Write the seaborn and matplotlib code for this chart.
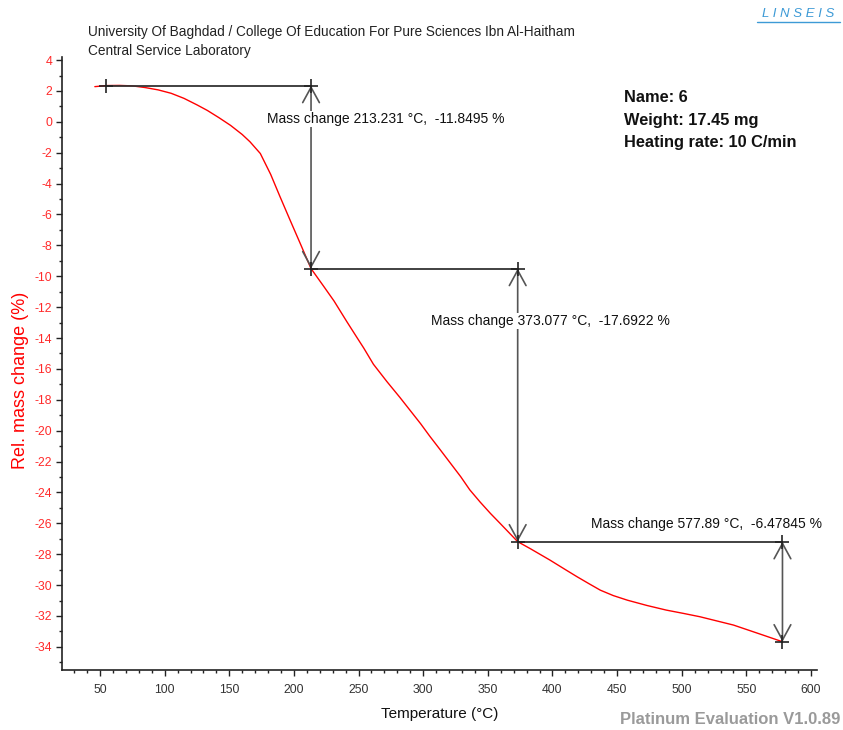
import matplotlib
matplotlib.use("Agg")
import matplotlib.pyplot as plt
from matplotlib.ticker import MultipleLocator
from matplotlib.lines import Line2D
import numpy as np
import pandas as pd
import seaborn as sns

# ---------------- data ----------------
temperature = [46, 55, 65, 75, 85, 95, 105, 115, 125, 133, 142, 151, 160, 166, 174,
               182, 189, 197, 205, 213.2, 223, 231, 241, 249, 254, 261.5, 272, 282,
               290, 298, 305, 313, 321, 329, 336, 344, 352, 360, 367, 373.1, 383,
               398, 410, 419, 428, 437, 447, 458, 473, 488, 501, 514, 527, 540,
               552, 565, 577.9]
mass_change = [2.28, 2.35, 2.36, 2.33, 2.22, 2.07, 1.85, 1.52, 1.10, 0.74, 0.27,
               -0.23, -0.82, -1.29, -2.05, -3.40, -4.80, -6.36, -7.90, -9.50,
               -10.65, -11.60, -12.95, -14.00, -14.65, -15.70, -16.83, -17.85,
               -18.70, -19.55, -20.35, -21.22, -22.10, -22.98, -23.83, -24.62,
               -25.36, -26.05, -26.66, -27.19, -27.65, -28.38, -29.00, -29.46,
               -29.90, -30.33, -30.68, -30.98, -31.32, -31.62, -31.83, -32.05,
               -32.32, -32.59, -32.93, -33.30, -33.67]

step_temps = [54.6, 213.231, 373.077, 577.89]
step_levels = [2.35, -9.4995, -27.1917, -33.6702]
step_labels = ["Mass change 213.231 °C,  -11.8495 %",
               "Mass change 373.077 °C,  -17.6922 %",
               "Mass change 577.89 °C,  -6.47845 %"]
label_x = [179.2, 306.2, 430.0]
label_y = [0.18, -12.9, -26.05]

header_lines = ["University Of Baghdad / College Of Education For Pure Sciences Ibn Al-Haitham",
                "Central Service Laboratory"]
info_lines = ["Name: 6", "Weight: 17.45 mg", "Heating rate: 10 C/min"]

# ---------------- style ----------------
sns.set_style("ticks")
plt.rcParams["font.family"] = ["Liberation Sans", "DejaVu Sans"]
plt.rcParams["axes.unicode_minus"] = False

fig = plt.figure(figsize=(8.43, 7.30), dpi=100)
ax = fig.add_axes([62 / 843, 60 / 730, (817 - 62) / 843, (670 - 57) / 730])

df = pd.DataFrame({"Temperature": temperature, "Mass": mass_change})
sns.lineplot(data=df, x="Temperature", y="Mass", sort=False, estimator=None,
             color="#ff0000", lw=1.0, ax=ax)

line_col = "#333333"
arrow_col = "#555555"
for i in range(3):
    ax.plot([step_temps[i], step_temps[i + 1]], [step_levels[i], step_levels[i]],
            color=line_col, lw=1.3, zorder=3)
    ax.annotate("", xy=(step_temps[i + 1], step_levels[i + 1]),
                xytext=(step_temps[i + 1], step_levels[i]),
                arrowprops=dict(arrowstyle="<->,head_length=1.1,head_width=0.6",
                                color=arrow_col, lw=1.2, shrinkA=0, shrinkB=0,
                                mutation_scale=10), zorder=2)
    ax.text(label_x[i], label_y[i], step_labels[i], fontsize=10, color="#111111",
            ha="left", va="center", zorder=4,
            bbox=dict(facecolor="white", edgecolor="none", pad=1.0))

cross_t = [step_temps[0], step_temps[1], step_temps[1], step_temps[2], step_temps[2],
           step_temps[3], step_temps[3]]
cross_l = [step_levels[0], step_levels[0], step_levels[1], step_levels[1],
           step_levels[2], step_levels[2], step_levels[3]]
ax.plot(cross_t, cross_l, ls="none", marker="+", ms=10, mew=1.2, color="#222222",
        zorder=5)

ax.xaxis.set_minor_locator(MultipleLocator(10))
ax.yaxis.set_minor_locator(MultipleLocator(1))
ax.set_xticks(np.arange(50, 601, 50))
ax.set_yticks(np.arange(-34, 5, 2))
ax.set_xlim(20.6, 604.6)
ax.set_ylim(-35.5, 4.2)

ax.tick_params(axis="both", which="major", direction="out", length=4, width=1,
               color="#222222", labelsize=8.8)
ax.tick_params(axis="both", which="minor", direction="out", length=2, width=1,
               color="#222222")
ax.tick_params(axis="y", labelcolor="#ff2a2a", pad=3)
ax.tick_params(axis="x", labelcolor="#333333", pad=6)

sns.despine(ax=ax, top=True, right=True)
for s in ["left", "bottom"]:
    ax.spines[s].set_color("#222222")
    ax.spines[s].set_linewidth(1.2)

ax.set_xlabel("Temperature (°C)", fontsize=11, color="#111111", labelpad=8)
ax.set_ylabel("Rel. mass change (%)", fontsize=13, color="#ff0000", va="center")
ax.yaxis.set_label_coords(-0.0556, 0.473)

# header
fig.text(88 / 843, 1 - 32 / 730, header_lines[0], fontsize=9.8, color="#222222",
         ha="left", va="center")
fig.text(88 / 843, 1 - 51 / 730, header_lines[1], fontsize=9.8, color="#222222",
         ha="left", va="center")

# info block
for k, t in enumerate(info_lines):
    fig.text(624 / 843, 1 - (97 + 23 * k) / 730, t, fontsize=11.8, fontweight="bold",
             color="#111111", ha="left", va="center")

# logo
fig.text(798 / 843, 1 - 14 / 730, "L I N S E I S", fontsize=9.5,
         fontstyle="italic", color="#3d9ad6", ha="center", va="center")
fig.add_artist(Line2D([757 / 843, 840 / 843], [1 - 22 / 730, 1 - 22 / 730],
                      color="#3d9ad6", lw=1.0))

# footer
fig.text(840 / 843, 1 - 720 / 730, "Platinum Evaluation V1.0.89", fontsize=12,
         fontweight="bold", color="#9a9a9a", ha="right", va="center")

fig.savefig("out.png", dpi=100)
